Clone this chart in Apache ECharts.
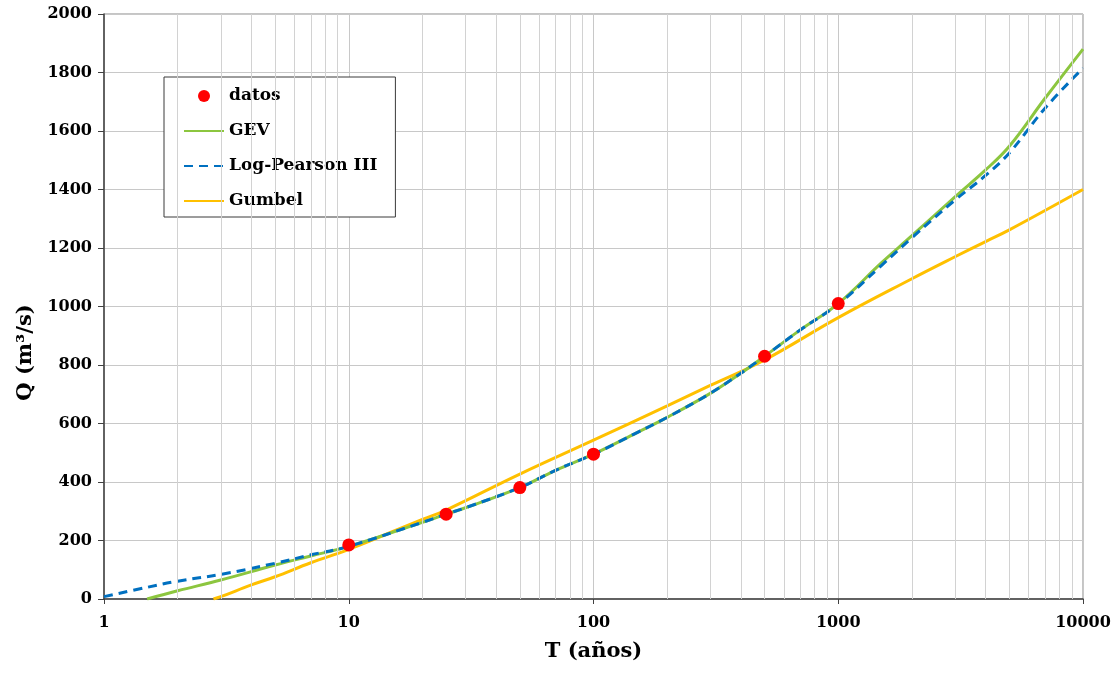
<!DOCTYPE html>
<html>
<head>
<meta charset="utf-8">
<script src="https://cdn.jsdelivr.net/npm/echarts@6/dist/echarts.min.js"></script>
<style>
  html, body { margin: 0; padding: 0; background: #ffffff; }
  #chart { width: 1117px; height: 673px; }
</style>
</head>
<body>
<div id="chart"></div>
<script>
// ---- Data ----
const datosT = [10, 25, 50, 100, 500, 1000];
const datosQ = [185, 290, 381, 495, 830, 1010];

const gevT = [1.5, 2, 3, 5, 7, 10, 20, 25, 30, 50, 70, 100, 150, 200, 300, 400, 500, 700, 1000, 1500, 2000, 3000, 4000, 5000, 7000, 10000];
const gevQ = [0, 28, 65, 116, 147, 180, 262, 290, 312, 381, 440, 495, 568, 621, 703, 772, 830, 920, 1010, 1149, 1242, 1375, 1467, 1548, 1712, 1880];

const lp3T = [1, 1.5, 2, 3, 5, 7, 10, 20, 25, 30, 50, 70, 100, 150, 200, 300, 400, 500, 700, 1000, 1500, 2000, 3000, 4000, 5000, 7000, 10000];
const lp3Q = [8, 40, 61, 84, 122, 151, 180, 262, 290, 312, 381, 440, 495, 568, 621, 703, 772, 830, 920, 1008, 1140, 1235, 1364, 1448, 1525, 1678, 1815];

const gumT = [2.8, 3, 4, 5, 7, 10, 20, 25, 50, 100, 200, 300, 500, 1000, 2000, 3000, 4000, 5000, 10000];
const gumQ = [0, 8, 48, 76, 124, 170, 272, 304, 427, 543, 660, 730, 817, 962, 1095, 1170, 1222, 1262, 1400];

// minor vertical gridlines (log decades 2..9)
const minorT = [2,3,4,5,6,7,8,9, 20,30,40,50,60,70,80,90, 200,300,400,500,600,700,800,900, 2000,3000,4000,5000,6000,7000,8000,9000];

const pairs = (xs, ys) => xs.map((x, i) => [x, ys[i]]);
const FONT = '"DejaVu Serif", serif';

const chart = echarts.init(document.getElementById('chart'), null, { renderer: 'canvas' });

const option = {
  animation: false,
  backgroundColor: '#ffffff',
  grid: {
    left: 104, right: 34, top: 14, bottom: 74,
    show: true, borderColor: '#8a8a8a', borderWidth: 1, backgroundColor: 'transparent'
  },
  legend: {
    data: [
      { name: 'datos', icon: 'circle' },
      { name: 'GEV', itemStyle: { opacity: 0 } },
      { name: 'Log-Pearson III', itemStyle: { opacity: 0 } },
      { name: 'Gumbel', itemStyle: { opacity: 0 } }
    ],
    orient: 'vertical',
    left: 164, top: 77,
    padding: [9, 18, 6, 19],
    itemWidth: 40, itemHeight: 12, itemGap: 15,
    backgroundColor: '#ffffff',
    borderColor: '#3a3a3a', borderWidth: 1,
    textStyle: { fontFamily: FONT, fontWeight: 'bold', fontSize: 17, color: '#000', lineHeight: 20 }
  },
  xAxis: {
    type: 'log', logBase: 10, min: 1, max: 10000,
    name: 'T (años)', nameLocation: 'middle', nameGap: 42,
    nameTextStyle: { fontFamily: FONT, fontWeight: 'bold', fontSize: 21, color: '#000' },
    axisLine: { show: true, onZero: false, lineStyle: { color: '#404040', width: 1.5 } },
    axisTick: { show: true, inside: false, length: 5, lineStyle: { color: '#404040' } },
    axisLabel: { fontFamily: FONT, fontWeight: 'bold', fontSize: 16, color: '#000', margin: 16,
                 formatter: v => String(Math.round(v)) },
    splitLine: { show: true, lineStyle: { color: '#c8c8c8', width: 1 } }
  },
  yAxis: {
    type: 'value', min: 0, max: 2000, interval: 200,
    name: 'Q (m³/s)', nameLocation: 'middle', nameGap: 68,
    nameTextStyle: { fontFamily: FONT, fontWeight: 'bold', fontSize: 21, color: '#000', padding: [0, 92, 0, 0] },
    axisLine: { show: true, lineStyle: { color: '#404040', width: 1.5 } },
    axisTick: { show: true, inside: false, length: 6, lineStyle: { color: '#404040' } },
    axisLabel: { fontFamily: FONT, fontWeight: 'bold', fontSize: 16, color: '#000', margin: 12,
                 formatter: v => String(v) },
    splitLine: { show: true, lineStyle: { color: '#c8c8c8', width: 1 } }
  },
  series: [
    {
      name: '_minorgrid', type: 'line', data: [], z: 1, silent: true,
      markLine: {
        silent: true, symbol: ['none', 'none'], animation: false,
        label: { show: false },
        lineStyle: { color: '#d2d2d2', type: 'solid', width: 1 },
        emphasis: { disabled: true },
        data: minorT.map(v => ({ xAxis: v }))
      }
    },
    {
      name: 'GEV', type: 'line', data: pairs(gevT, gevQ), z: 3,
      symbol: 'none', smooth: 0.4,
      lineStyle: { color: '#8cc63f', width: 3, type: 'solid' },
      itemStyle: { color: '#8cc63f' }
    },
    {
      name: 'Log-Pearson III', type: 'line', data: pairs(lp3T, lp3Q), z: 4,
      symbol: 'none', smooth: 0.4,
      lineStyle: { color: '#0070c0', width: 3, type: [9, 6] },
      itemStyle: { color: '#0070c0' }
    },
    {
      name: 'Gumbel', type: 'line', data: pairs(gumT, gumQ), z: 2,
      symbol: 'none', smooth: 0.4,
      lineStyle: { color: '#ffc000', width: 3, type: 'solid' },
      itemStyle: { color: '#ffc000' }
    },
    {
      name: 'datos', type: 'scatter', data: pairs(datosT, datosQ), z: 5,
      symbol: 'circle', symbolSize: 13,
      itemStyle: { color: '#ff0000', opacity: 1 }
    }
  ]
};

chart.setOption(option);
</script>
</body>
</html>
